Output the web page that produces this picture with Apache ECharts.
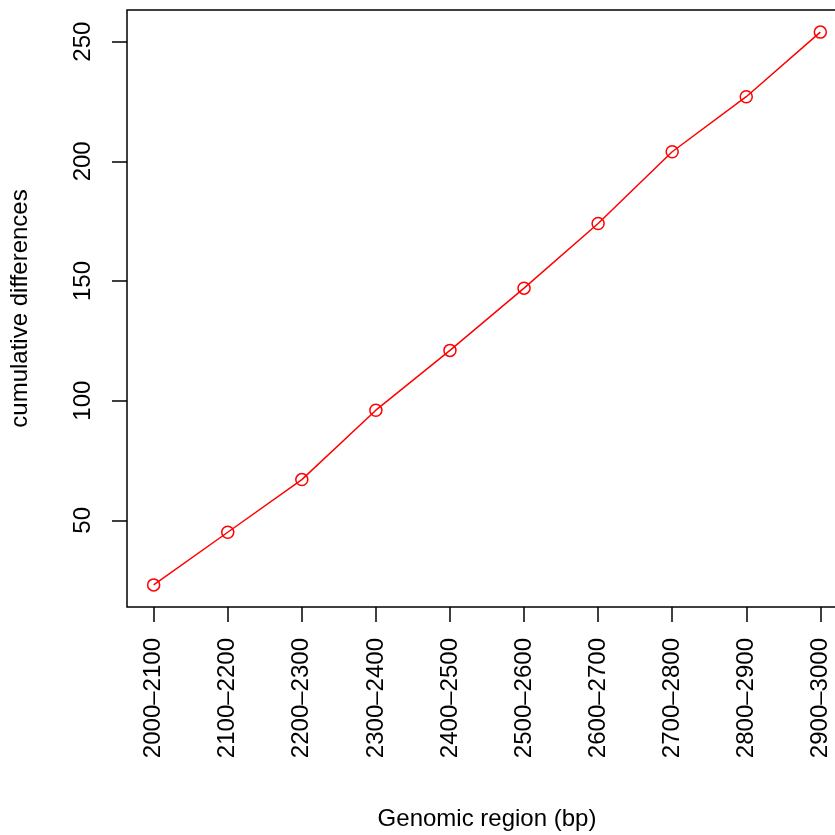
<!DOCTYPE html>
<html>
<head>
<meta charset="utf-8">
<style>
  html, body { margin: 0; padding: 0; background: #ffffff; }
  #chart { width: 835px; height: 835px; }
</style>
<script src="https://cdn.jsdelivr.net/npm/echarts@6/dist/echarts.min.js"></script>
</head>
<body>
<div id="chart"></div>
<script>
// Genomic windows along the x axis
const regions = ['2000\u20132100', '2100\u20132200', '2200\u20132300', '2300\u20132400', '2400\u20132500',
                 '2500\u20132600', '2600\u20132700', '2700\u20132800', '2800\u20132900', '2900\u20133000'];
// Cumulative number of differences at the end of each window
const cumulative = [23, 45, 67, 96, 121, 147, 174, 204, 227, 254];
// Y tick positions
const yTicks = [50, 100, 150, 200, 250];

const FONT = '"Liberation Sans", Arial, Helvetica, sans-serif';

// Pad axis ranges by 4% on both sides of the data span
function padded(lo, hi) {
  const d = (hi - lo) * 0.04;
  return [lo - d, hi + d];
}
const xIdx = regions.map((_, i) => i + 1);
const [xMin, xMax] = padded(1, regions.length);
const [yMin, yMax] = padded(Math.min(...cumulative), Math.max(...cumulative));

const chart = echarts.init(document.getElementById('chart'), null, { renderer: 'canvas' });

chart.setOption({
  backgroundColor: '#ffffff',
  animation: false,
  textStyle: { fontFamily: FONT },
  grid: {
    left: 127, top: 10, width: 720, height: 597,
    containLabel: false,
    outerBoundsMode: 'none',
    show: true, borderColor: '#000000', borderWidth: 1.5, backgroundColor: 'transparent'
  },
  xAxis: {
    type: 'value',
    min: xMin, max: xMax,
    name: 'Genomic region (bp)',
    nameLocation: 'middle',
    nameGap: 200,
    nameTextStyle: { fontSize: 24, color: '#000', fontFamily: FONT },
    axisLine: { show: false },
    splitLine: { show: false },
    axisTick: {
      show: true, inside: false, length: 15, customValues: xIdx,
      lineStyle: { color: '#000', width: 1.5 }
    },
    axisLabel: {
      show: true, rotate: 90, margin: 31, fontSize: 24, color: '#000', fontFamily: FONT,
      customValues: xIdx,
      hideOverlap: false,
      formatter: v => regions[Math.round(v) - 1] || ''
    }
  },
  yAxis: {
    type: 'value',
    min: yMin, max: yMax,
    name: 'cumulative differences',
    nameLocation: 'middle',
    nameGap: 95,
    nameRotate: 90,
    nameTextStyle: { fontSize: 24, color: '#000', fontFamily: FONT },
    axisLine: { show: false },
    splitLine: { show: false },
    axisTick: {
      show: true, inside: false, length: 15, customValues: yTicks,
      lineStyle: { color: '#000', width: 1.5 }
    },
    axisLabel: {
      show: true, rotate: 90, margin: 32, fontSize: 24, color: '#000', fontFamily: FONT,
      customValues: yTicks
    }
  },
  series: [{
    type: 'line',
    data: cumulative.map((v, i) => [xIdx[i], v]),
    symbol: 'circle',
    symbolSize: 12,
    showSymbol: true,
    lineStyle: { color: '#ff0000', width: 1.5 },
    itemStyle: { color: 'rgba(0,0,0,0)', borderColor: '#ff0000', borderWidth: 1.5 },
    emphasis: { disabled: true }
  }]
});
</script>
</body>
</html>
